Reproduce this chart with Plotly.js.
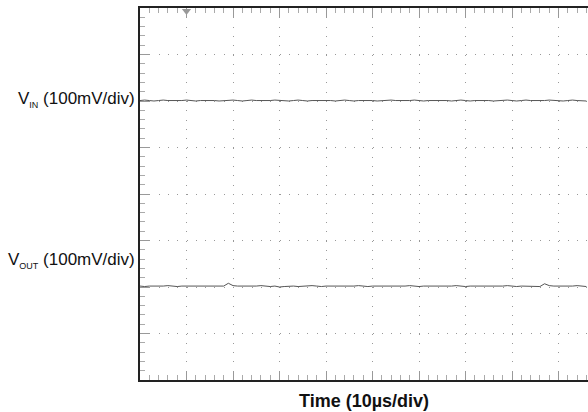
<!DOCTYPE html>
<html>
<head>
<meta charset="utf-8">
<script src="https://cdn.plot.ly/plotly-3.0.1.min.js"></script>
<style>html,body{margin:0;padding:0;background:#fff;}#chart{width:588px;height:412px;}</style>
</head>
<body>
<div id="chart"></div>
<script>
// time in µs (10 µs per division)
const timeUs = [0,1,2,3,4,5,6,7,8,9,10,11,12,13,14,15,16,17,18,19,20,21,22,23,24,25,26,27,28,29,30,31,32,33,34,35,36,37,38,39,40,41,42,43,44,45,46,47,48,49,50,51,52,53,54,55,56,57,58,59,60,61,62,63,64,65,66,67,68,69,70,71,72,73,74,75,76,77,78,79,80,81,82,83,84,85,86,87,88,89,90,91,92,93,94,95,96];
// VIN trace, in screen divisions
const vinDiv = [6.01,6.02,6.01,6.00,6.01,6.02,6.01,6.01,6.00,6.01,6.02,6.01,6.00,6.01,6.01,6.02,6.01,6.00,6.01,6.01,6.02,6.01,6.00,6.01,6.02,6.01,6.01,6.00,6.01,6.02,6.01,6.01,6.00,6.01,6.02,6.01,6.00,6.01,6.01,6.02,6.01,6.01,6.00,6.01,6.02,6.01,6.00,6.01,6.01,6.02,6.01,6.00,6.01,6.01,6.02,6.01,6.01,6.00,6.01,6.02,6.01,6.00,6.01,6.01,6.02,6.01,6.01,6.00,6.01,6.02,6.01,6.00,6.01,6.01,6.02,6.01,6.00,6.01,6.01,6.02,6.01,6.00,6.01,6.02,6.01,6.01,6.00,6.01,6.02,6.01,6.01,6.00,6.01,6.02,6.01,6.01,6.00];
// VOUT trace, in screen divisions
const voutDiv = [2.02,2.01,2.02,2.02,2.01,2.02,2.03,2.02,2.01,2.02,2.02,2.01,2.02,2.02,2.01,2.02,2.02,2.01,2.02,2.08,2.03,2.02,2.02,2.01,2.02,2.02,2.03,2.02,2.01,2.02,2.00,2.01,2.02,2.02,2.01,2.02,2.02,2.03,2.02,2.01,2.02,2.02,2.01,2.02,2.02,2.01,2.02,2.03,2.02,2.01,2.02,2.02,2.01,2.02,2.02,2.01,2.02,2.02,2.03,2.02,2.01,2.02,2.02,2.01,2.02,2.02,2.01,2.02,2.03,2.02,2.01,2.02,2.02,2.01,2.02,2.02,2.01,2.02,2.02,2.03,2.02,2.01,2.02,2.02,2.01,2.02,2.01,2.07,2.03,2.02,2.02,2.01,2.02,2.02,2.03,2.02,2.01];
const triggerTime = [10];
const triggerLevel = [7.935];
const labels = ['V<sub><span style="font-size:9px">IN</span></sub> (100mV/div)', 'V<sub><span style="font-size:9px">OUT</span></sub> (100mV/div)'];
const labelLevels = [6.04, 2.58];
const xTitle = '<b>Time (10µs/div)</b>';

const traces = [
  {x: timeUs, y: vinDiv, mode: 'lines', line: {color: '#555', width: 1}, hoverinfo: 'skip'},
  {x: timeUs, y: voutDiv, mode: 'lines', line: {color: '#555', width: 1}, hoverinfo: 'skip'},
  {x: triggerTime, y: triggerLevel, mode: 'markers', cliponaxis: false,
   marker: {symbol: 'triangle-down', size: 8, color: '#999'}, hoverinfo: 'skip'}
];

const annotations = labels.map((t, i) => ({
  text: t, xref: 'paper', x: 0, xanchor: 'right', xshift: -3,
  yref: 'y', y: labelLevels[i], yanchor: 'middle', showarrow: false,
  font: {family: 'Liberation Sans, Arial, sans-serif', size: 17, color: '#111'}
}));
annotations.push({
  text: xTitle, xref: 'paper', x: 0.5, xanchor: 'center',
  yref: 'paper', y: -0.0565, yanchor: 'middle', showarrow: false,
  font: {family: 'Liberation Sans, Arial, sans-serif', size: 18, color: '#111'}
});

const layout = {
  width: 588, height: 412,
  margin: {l: 140, r: 0, t: 8, b: 32},
  paper_bgcolor: '#fff', plot_bgcolor: '#fff',
  showlegend: false,
  xaxis: {
    range: [0, 96.34], tick0: 0, dtick: 10,
    showgrid: true, gridcolor: '#999', gridwidth: 1, griddash: '1px,8.3px',
    ticks: 'inside', ticklen: 9, tickcolor: '#999', tickwidth: 1,
    showline: true, linecolor: '#222', linewidth: 2, mirror: 'ticks',
    showticklabels: false, zeroline: false, fixedrange: true,
    minor: {dtick: 2, tick0: 0, ticks: 'inside', ticklen: 5, tickcolor: '#aaa', tickwidth: 1, showgrid: false}
  },
  yaxis: {
    range: [0, 8], tick0: 0, dtick: 1,
    showgrid: true, gridcolor: '#999', gridwidth: 1, griddash: '1px,8.3px',
    ticks: 'inside', ticklen: 9, tickcolor: '#999', tickwidth: 1,
    showline: true, linecolor: '#222', linewidth: 2, mirror: false,
    showticklabels: false, zeroline: false, fixedrange: true,
    minor: {dtick: 0.2, tick0: 0, ticks: 'inside', ticklen: 5, tickcolor: '#aaa', tickwidth: 1, showgrid: false}
  },
  annotations: annotations
};

Plotly.newPlot('chart', traces, layout, {staticPlot: true});
</script>
</body>
</html>
